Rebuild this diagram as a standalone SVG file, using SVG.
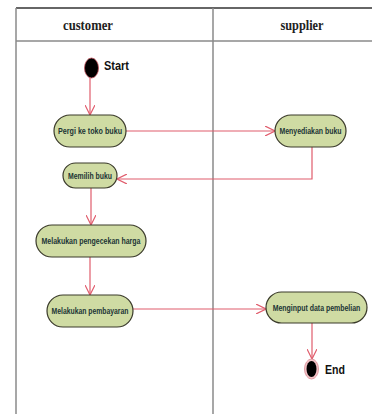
<svg xmlns="http://www.w3.org/2000/svg" width="372" height="414" viewBox="0 0 372 414">
<defs>
<style>
.lane{stroke:#8a8a8a;stroke-width:1.5;fill:none}
.hdr{font-family:"Liberation Serif",serif;font-weight:bold;font-size:15px;fill:#222;text-anchor:middle}
.act{fill:#cfdba3;stroke:#3a3a2a;stroke-width:1.2}
.lbl{font-family:"Liberation Sans",Arial,sans-serif;font-weight:bold;font-size:8.8px;fill:#1c3535;text-anchor:middle}
.big{font-family:"Liberation Sans",Arial,sans-serif;font-weight:bold;font-size:12.5px;fill:#111}
.flow{stroke:#e05c6c;stroke-width:1.2;fill:none}
</style>
<marker id="arr" viewBox="0 0 10 10" refX="10" refY="5" markerWidth="10" markerHeight="10" markerUnits="userSpaceOnUse" orient="auto">
<path d="M0,0 L10,5 L0,10" fill="none" stroke="#e05c6c" stroke-width="1.2"/>
</marker>
</defs>
<rect width="372" height="414" fill="#fff"/>
<g id="frame">
<line x1="16" y1="8" x2="372" y2="8" stroke="#333" stroke-width="1.5"/>
<line class="lane" x1="16" y1="41" x2="372" y2="41"/>
<line class="lane" x1="16" y1="8" x2="16" y2="414"/>
<line class="lane" x1="213" y1="8" x2="213" y2="414"/>
<text class="hdr" x="88" y="30" textLength="50" lengthAdjust="spacingAndGlyphs">customer</text>
<text class="hdr" x="302" y="30" textLength="43" lengthAdjust="spacingAndGlyphs">supplier</text>
</g>
<g id="connectors">
<line class="flow" x1="90" y1="78" x2="90" y2="115" marker-end="url(#arr)"/>
<line class="flow" x1="126" y1="131" x2="275" y2="131" marker-end="url(#arr)"/>
<polyline class="flow" points="312,147 312,179 117,179" marker-end="url(#arr)"/>
<line class="flow" x1="91" y1="188" x2="91" y2="225" marker-end="url(#arr)"/>
<line class="flow" x1="90" y1="257" x2="90" y2="295" marker-end="url(#arr)"/>
<line class="flow" x1="133" y1="309" x2="266" y2="309" marker-end="url(#arr)"/>
<line class="flow" x1="312" y1="323" x2="312" y2="359" marker-end="url(#arr)"/>
</g>
<g id="start">
<ellipse cx="91.5" cy="68" rx="7" ry="10" fill="#000" stroke="#c0505a" stroke-width="0.8"/>
<text class="big" x="104" y="70" textLength="25" lengthAdjust="spacingAndGlyphs">Start</text>
</g>
<g id="pergi">
<rect class="act" x="54" y="115" width="72" height="32" rx="16"/>
<text class="lbl" x="90" y="134" textLength="64" lengthAdjust="spacingAndGlyphs">Pergi ke toko buku</text>
</g>
<g id="menyediakan">
<rect class="act" x="275" y="115" width="71" height="32" rx="16"/>
<text class="lbl" x="310.5" y="134" textLength="62" lengthAdjust="spacingAndGlyphs">Menyediakan buku</text>
</g>
<g id="memilih">
<rect class="act" x="63" y="163" width="54" height="25" rx="12.5"/>
<text class="lbl" x="90" y="178.5" textLength="44" lengthAdjust="spacingAndGlyphs">Memilih buku</text>
</g>
<g id="pengecekan">
<rect class="act" x="36" y="225" width="110" height="32" rx="16"/>
<text class="lbl" x="91" y="244" textLength="99" lengthAdjust="spacingAndGlyphs">Melakukan pengecekan  harga</text>
</g>
<g id="pembayaran">
<rect class="act" x="47" y="295" width="86" height="32" rx="16"/>
<text class="lbl" x="90" y="314" textLength="77" lengthAdjust="spacingAndGlyphs">Melakukan pembayaran</text>
</g>
<g id="menginput">
<rect class="act" x="266" y="292" width="101" height="31" rx="15.5"/>
<text class="lbl" transform="translate(316.5,310.5) scale(0.79,1)" x="0" y="0">Menginput data pembelian</text>
</g>
<g id="end">
<ellipse cx="311.5" cy="369" rx="7" ry="10" fill="#f3c4c8" stroke="#d88890" stroke-width="0.8"/>
<ellipse cx="311.5" cy="369" rx="5" ry="8" fill="#000"/>
<text class="big" x="325" y="373.5" textLength="20" lengthAdjust="spacingAndGlyphs">End</text>
</g>
</svg>
